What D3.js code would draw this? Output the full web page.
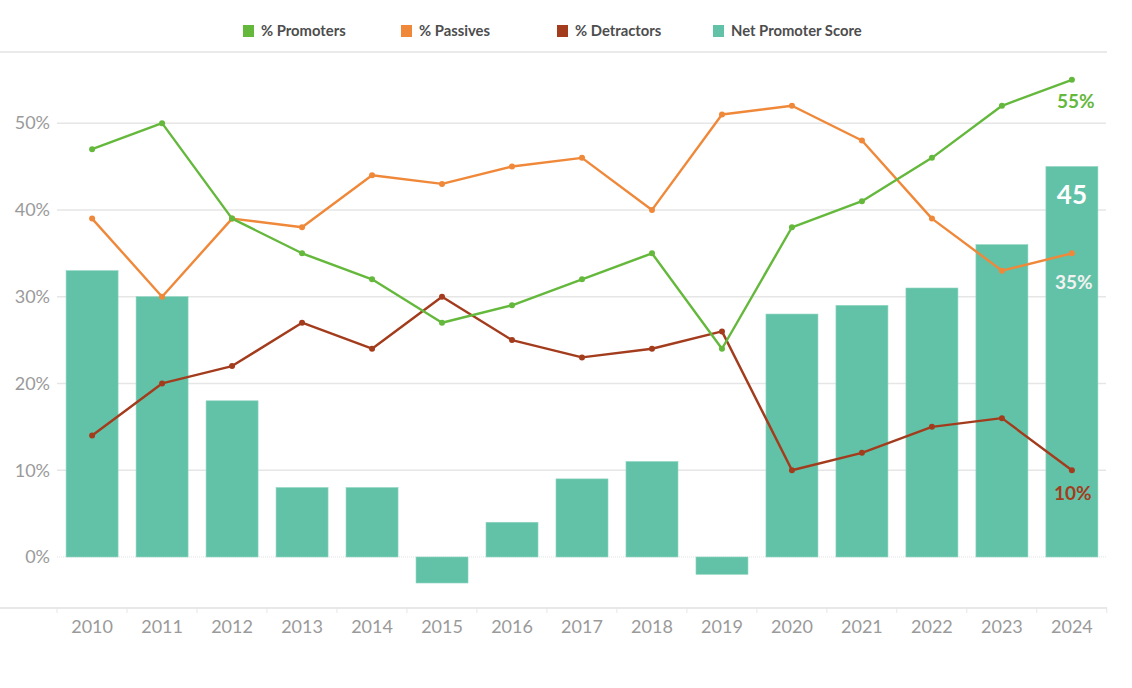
<!DOCTYPE html>
<html>
<head>
<meta charset="utf-8">
<script src="https://cdn.jsdelivr.net/npm/d3@7"></script>
<style>
html,body{margin:0;padding:0;background:#fff;}
svg{display:block;font-family:Lato, "Open Sans", sans-serif;}
</style>
</head>
<body>
<svg id="chart" width="1132" height="688"></svg>
<script>
const years = ["2010","2011","2012","2013","2014","2015","2016","2017","2018","2019","2020","2021","2022","2023","2024"];
const promoters  = [47,50,39,35,32,27,29,32,35,24,38,41,46,52,55];
const passives   = [39,30,39,38,44,43,45,46,40,51,52,48,39,33,35];
const detractors = [14,20,22,27,24,30,25,23,24,26,10,12,15,16,10];
const nps        = [33,30,18,8,8,-3,4,9,11,-2,28,29,31,36,45];
const yTicks = [0,10,20,30,40,50];
const legendItems = ["% Promoters","% Passives","% Detractors","Net Promoter Score"];

(function(){
const colors = {prom:"#64b83c", pass:"#f0883a", det:"#a33c1d", nps:"#62c2a7"};

const svg = d3.select("#chart");
const pLeft = 57, pRight = 1107, pTop = 52, pBottom = 608;

const x = d3.scaleBand().domain(years).range([pLeft, pRight]).paddingInner(0.257).paddingOuter(0.13);
const y = d3.scaleLinear().domain([-5.88, 58.2]).range([pBottom, pTop]);

// top separator line
svg.append("line").attr("x1",0).attr("x2",pRight).attr("y1",pTop).attr("y2",pTop)
  .attr("stroke","#e3e3e3").attr("stroke-width",1.5);

// gridlines
svg.append("g").selectAll("line").data(yTicks.filter(d=>d!==0)).join("line")
  .attr("x1",pLeft).attr("x2",pRight-1).attr("y1",d=>y(d)).attr("y2",d=>y(d))
  .attr("stroke","#e6e6e6").attr("stroke-width",1.5);
svg.append("line").attr("x1",pLeft).attr("x2",pRight-1).attr("y1",y(0)).attr("y2",y(0))
  .attr("stroke","#e3e3e3").attr("stroke-width",1).attr("stroke-dasharray","1,1");

// y axis labels
svg.append("g").selectAll("text").data(yTicks).join("text")
  .attr("x",50).attr("y",d=>y(d)).attr("dy","0.35em").attr("text-anchor","end")
  .attr("fill","#9a9a9a").attr("font-size",18).text(d=>d+"%");

// bars
svg.append("g").selectAll("rect").data(years).join("rect")
  .attr("x",d=>x(d)).attr("width",x.bandwidth())
  .attr("y",(d,i)=>y(Math.max(0,nps[i])))
  .attr("height",(d,i)=>Math.abs(y(nps[i])-y(0)))
  .attr("fill",colors.nps).attr("stroke","#8fd4c0").attr("stroke-width",0.6);

// bottom axis
svg.append("line").attr("x1",0).attr("x2",pRight).attr("y1",pBottom).attr("y2",pBottom)
  .attr("stroke","#e0e0e0").attr("stroke-width",1.5);
const step = x.step();
svg.append("g").selectAll("line").data(d3.range(years.length+1)).join("line")
  .attr("x1",i=>pLeft+i*step).attr("x2",i=>pLeft+i*step).attr("y1",pBottom).attr("y2",pBottom+5)
  .attr("stroke","#e6e6e6").attr("stroke-width",1);
svg.append("g").selectAll("text").data(years).join("text")
  .attr("x",d=>x(d)+x.bandwidth()/2).attr("y",633).attr("text-anchor","middle")
  .attr("fill","#9a9a9a").attr("font-size",18).text(d=>d);

// lines
const cx = d=>x(d)+x.bandwidth()/2;
function drawLine(vals,color){
  const line = d3.line().x((v,i)=>cx(years[i])).y(v=>y(v));
  svg.append("path").datum(vals).attr("d",line).attr("fill","none")
    .attr("stroke",color).attr("stroke-width",2.4).attr("stroke-linejoin","round");
  svg.append("g").selectAll("circle").data(vals).join("circle")
    .attr("cx",(v,i)=>cx(years[i])).attr("cy",v=>y(v)).attr("r",3).attr("fill",color);
}
drawLine(detractors,colors.det);
drawLine(passives,colors.pass);
drawLine(promoters,colors.prom);

// end labels
const last = years.length-1;
const lx = cx(years[last]);
svg.append("text").attr("x",lx+4).attr("y",y(promoters[last])+28).attr("text-anchor","middle")
  .attr("fill",colors.prom).attr("font-size",19).attr("font-weight","bold").text(promoters[last]+"%");
svg.append("text").attr("x",lx).attr("y",y(nps[last])+37).attr("text-anchor","middle")
  .attr("fill","#ffffff").attr("font-size",26).attr("font-weight","bold").text(nps[last]);
svg.append("text").attr("x",lx+2).attr("y",y(passives[last])+36).attr("text-anchor","middle")
  .attr("fill","#f2f2f2").attr("font-size",19).attr("font-weight","bold").text(passives[last]+"%");
svg.append("text").attr("x",lx+1).attr("y",y(detractors[last])+30).attr("text-anchor","middle")
  .attr("fill",colors.det).attr("font-size",19).attr("font-weight","bold").text(detractors[last]+"%");

// legend
const legendX = [243,401,557,713];
const legendColors = [colors.prom,colors.pass,colors.det,colors.nps];
const lg = svg.append("g").selectAll("g").data(legendItems).join("g")
  .attr("transform",(d,i)=>`translate(${legendX[i]},25)`);
lg.append("rect").attr("width",11).attr("height",12).attr("fill",(d,i)=>legendColors[i]);
lg.append("text").attr("x",18).attr("y",6).attr("dy","0.35em").attr("font-size",14.8)
  .attr("font-weight","bold").attr("fill","#4d4d4d").text(d=>d);
})();
</script>
</body>
</html>
